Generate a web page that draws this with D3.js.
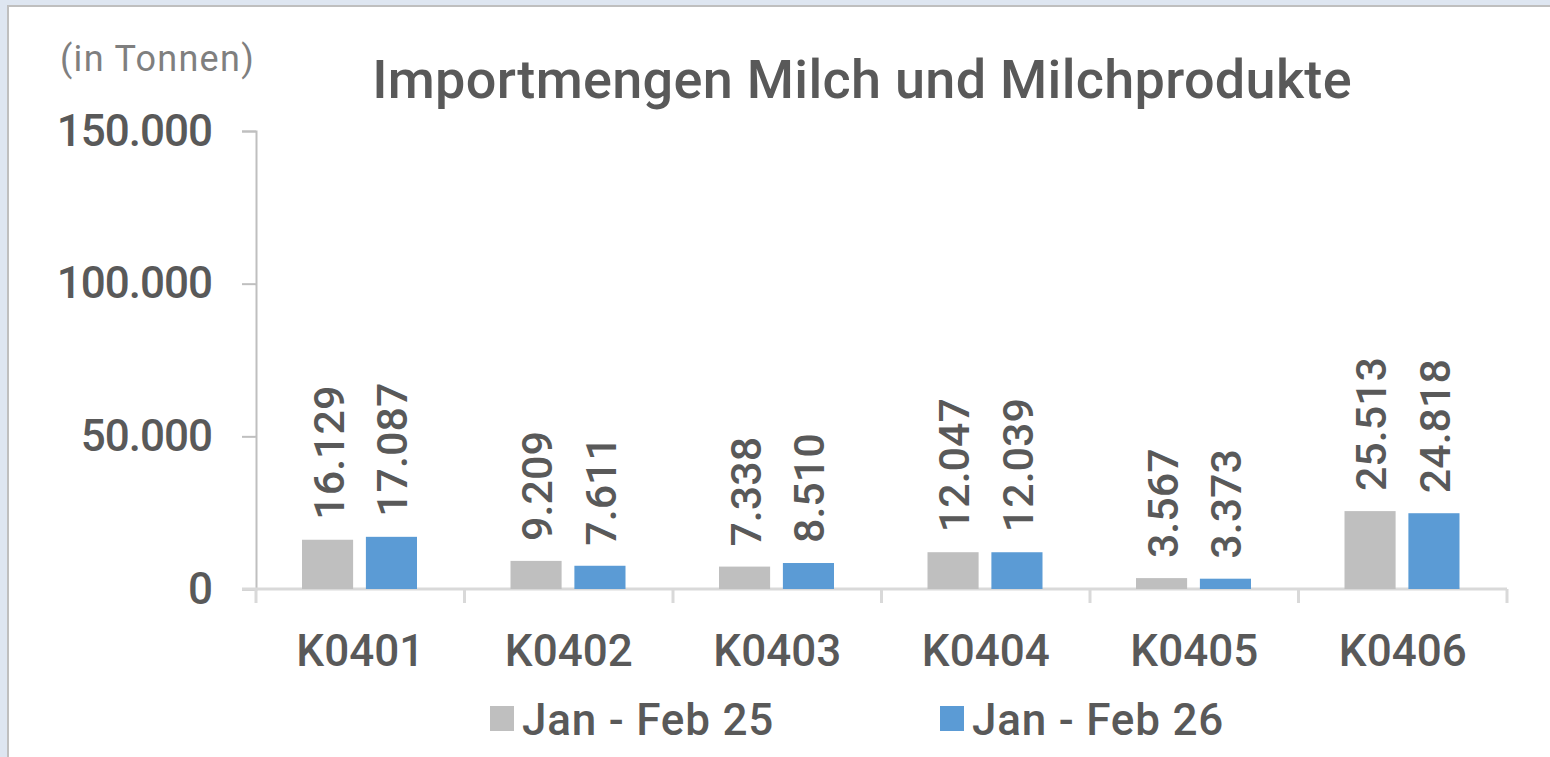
<!DOCTYPE html>
<html>
<head>
<meta charset="utf-8">
<script src="https://cdn.jsdelivr.net/npm/d3@7"></script>
<style>
  html, body { margin: 0; padding: 0; background: #dee6f1; }
  svg { display: block; }
  text { font-family: Roboto, "DejaVu Sans", sans-serif; fill: #595959; }
</style>
</head>
<body>
<svg id="chart" width="1550" height="757"></svg>
<script>
// chart data
var categories = ['K0401', 'K0402', 'K0403', 'K0404', 'K0405', 'K0406']
var seriesNames = ['Jan - Feb 25', 'Jan - Feb 26']
var values25 = [16129, 9209, 7338, 12047, 3567, 25513]
var values26 = [17087, 7611, 8510, 12039, 3373, 24818]
var yTicks = [0, 50000, 100000, 150000]
var colors = ['#bfbfbf', '#5b9bd5']

var svg = d3.select('#chart')
var fmt = function (d) {
    return d3.format(',')(d).replace(/,/g, '.')
}

// white panel with border
svg.append('rect')
   .attr('x', 8).attr('y', 6)
   .attr('width', 1560).attr('height', 780)
   .attr('fill', '#fff')
   .attr('stroke', '#bfbfbf')
   .attr('stroke-width', 2)

var margin = { top: 131, left: 256, right: 43, bottom: 168 }
var width = 1550 - margin.left - margin.right
var height = 757 - margin.top - margin.bottom

var g = svg.append('g')
           .attr('transform', 'translate(' + margin.left + ',' + margin.top + ')')

var xScale = d3.scaleBand()
               .domain(categories)
               .range([0, width])
var xInner = d3.scaleBand()
               .domain([0, 1])
               .range([46, 161])
               .paddingInner(0.2)
var yScale = d3.scaleLinear()
               .domain([0, 150000])
               .range([height, 0])

// y axis
var yAxis = d3.axisLeft(yScale)
              .tickValues(yTicks)
              .tickSize(14)
              .tickPadding(30)
              .tickFormat(fmt)
var yg = g.append('g').call(yAxis)
yg.select('.domain').attr('stroke', '#bfbfbf').attr('stroke-width', 2)
yg.selectAll('.tick line').attr('stroke', '#bfbfbf').attr('stroke-width', 2)
yg.selectAll('.tick text')
  .attr('font-size', 44)
  .attr('font-weight', 500)
  .attr('letter-spacing', -1)
  .attr('fill', '#595959')
  .style('font-family', 'Roboto')

// x axis
var xAxis = d3.axisBottom(xScale).tickSize(0).tickPadding(46)
var xg = g.append('g')
          .attr('transform', 'translate(0,' + height + ')')
          .call(xAxis)
xg.select('.domain').remove()
xg.append('line')
  .attr('x1', -14).attr('x2', width)
  .attr('stroke', '#d9d9d9').attr('stroke-width', 3)
xg.selectAll('.sep')
  .data(d3.range(categories.length + 1))
  .enter()
  .append('line')
  .attr('x1', function (d) { return d * xScale.step() })
  .attr('x2', function (d) { return d * xScale.step() })
  .attr('y1', 0).attr('y2', 14)
  .attr('stroke', '#d9d9d9').attr('stroke-width', 3)
xg.selectAll('.tick text')
  .attr('font-size', 44)
  .attr('font-weight', 500)
  .attr('fill', '#595959')
  .style('font-family', 'Roboto')

// bars
var rows = categories.map(function (c, i) {
    return { cat: c, vals: [values25[i], values26[i]] }
})
var groups = g.selectAll('.grp')
              .data(rows)
              .enter()
              .append('g')
              .attr('transform', function (d) { return 'translate(' + xScale(d.cat) + ',0)' })

groups.selectAll('rect')
      .data(function (d) { return d.vals })
      .enter()
      .append('rect')
      .attr('x', function (d, i) { return xInner(i) })
      .attr('y', function (d) { return yScale(d) })
      .attr('width', xInner.bandwidth())
      .attr('height', function (d) { return height - yScale(d) })
      .attr('fill', function (d, i) { return colors[i] })

groups.selectAll('.val')
      .data(function (d) { return d.vals })
      .enter()
      .append('text')
      .attr('transform', function (d, i) {
          return 'translate(' + (xInner(i) + xInner.bandwidth() / 2 + 16) + ',' + (yScale(d) - 20) + ') rotate(-90)'
      })
      .attr('font-size', 43)
      .attr('font-weight', 500)
      .text(fmt)

// titles
svg.append('text')
   .attr('x', 862).attr('y', 98)
   .attr('text-anchor', 'middle')
   .attr('font-size', 54)
   .attr('font-weight', 500)
   .attr('letter-spacing', 0.3)
   .text('Importmengen Milch und Milchprodukte')
svg.append('text')
   .attr('x', 60).attr('y', 71)
   .attr('font-size', 36)
   .attr('letter-spacing', 1.3)
   .style('fill', '#7f7f7f')
   .text('(in Tonnen)')

// legend
var legend = svg.append('g')
var lx = [490, 940]
seriesNames.forEach(function (name, i) {
    legend.append('rect')
          .attr('x', lx[i]).attr('y', 706)
          .attr('width', 24).attr('height', 25)
          .attr('fill', colors[i])
    legend.append('text')
          .attr('x', lx[i] + 32).attr('y', 735)
          .attr('font-size', 44)
          .attr('font-weight', 500)
          .attr('letter-spacing', 0.8)
          .text(name)
})
</script>
</body>
</html>
